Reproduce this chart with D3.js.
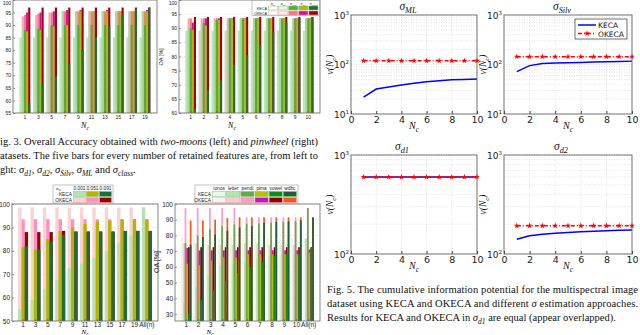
<!DOCTYPE html>
<html>
<head>
<meta charset="utf-8">
<script src="https://cdn.jsdelivr.net/npm/d3@7"></script>
<style>
body { margin: 0; background: #fff; }
svg { display: block; }
</style>
</head>
<body>
<svg id="page" width="640" height="335"></svg>
<script>
// ---- Fig. 3: two-moons (left) and pinwheel (right), OA [%] ----
var moonsNc = ["1", "3", "5", "7", "9", "11", "13", "15", "17", "19"];
var moonsKeca = [
    [85, 85, 85, 85, 85, 85, 85, 85, 85, 85],
    [88, 89, 90, 95.5, 95.5, 95.5, 95.5, 95.5, 95.5, 95.5],
    [88, 88.5, 90, 90, 90, 90, 90, 90, 90, 90],
    [87.5, 88, 89.5, 90, 95.5, 95.5, 95.5, 95.5, 95.5, 95.5],
    [59, 66.5, 69.5, 74.5, 80, 85, 89.5, 94, 96.5, 97]
];
var moonsOkeca = [
    [85, 85, 85, 85, 85, 85, 85, 85, 85, 85],
    [93.5, 94, 95, 95.5, 95.5, 95.5, 95.5, 95.5, 95.5, 95.5],
    [94, 94.5, 95, 95.5, 95.5, 95.5, 95.5, 95.5, 95.5, 95.5],
    [95, 95, 95.5, 96, 96, 95.5, 96, 95.5, 95.5, 96],
    [97, 97, 97, 97, 97, 97, 97, 97, 97, 97]
];
var pinNc = ["1", "2", "3", "4", "5", "6", "7", "8", "9", "10"];
var pinKeca = [
    [89, 89, 89, 89, 89, 89, 89, 89, 89, 89],
    [89.5, 91.5, 92.5, 93.5, 93.5, 93.5, 93.5, 93.5, 93.5, 93.5],
    [90, 92, 93, 93.5, 93.5, 93.5, 93.5, 93.5, 93.5, 93.5],
    [89.5, 91, 93, 93.5, 93.5, 93.5, 93.5, 93.5, 93.5, 93.5],
    [61.5, 68, 71.5, 77, 80.5, 84, 88.5, 92, 93.5, 94]
];
var pinOkeca = [
    [89.3, 89.3, 89.3, 89.3, 89.3, 89.3, 89.3, 89.3, 89.3, 89.3],
    [93.5, 93.5, 93.5, 93.5, 93.5, 93.5, 93.5, 93.5, 93.5, 93.5],
    [93.5, 93.5, 93.5, 93.5, 93.5, 93.5, 93.5, 93.5, 93.5, 93.5],
    [92, 93.5, 93.5, 93.5, 93.5, 93.5, 93.5, 93.5, 93.5, 93.5],
    [94, 94, 94, 94, 94, 94, 94, 94, 94, 94]
];
var sigmaNames = ["d1", "d2", "Silv", "ML", "class"];

// ---- Fig. 4: sigma values (left) and UCI datasets (right) ----
var sigNc = ["1", "3", "5", "7", "9", "11", "13", "15", "17", "19", "All(n)"];
var sigNames = ["0.001", "0.051", "0.091"];
var sigKeca = [
    [55, 59, 63.5, 67.5, 72.5, 74.5, 77, 80, 83.5, 86.5, 98.5],
    [81.5, 80.5, 85, 88.5, 90, 91.5, 92.5, 93, 93.5, 93.5, 93.5],
    [82, 80.5, 84, 86.8, 88, 88, 88, 88, 88.5, 88.5, 88.5]
];
var sigOkeca = [
    [98.5, 98.5, 98.5, 98.5, 98.5, 98.5, 98.5, 98.5, 98.5, 98.5, 98.5],
    [93.5, 93.5, 93.5, 93.5, 93.5, 93.5, 93.5, 93.5, 93.5, 93.5, 93.5],
    [88, 88, 88, 88.5, 88.3, 88.3, 88.3, 88.3, 88.5, 88.5, 88.5]
];
var dsNc = ["1", "2", "3", "4", "5", "6", "7", "8", "9", "10", "All(n)"];
var dsNames = ["ionos", "letter", "pendi", "pima", "vowel", "wdbc"];
var dsKeca = [
    [78, 79, 78.5, 78.5, 78.5, 78.5, 78, 78, 78, 78, 78],
    [38, 47, 55, 61, 62, 63, 65, 67, 68, 68, 78],
    [75, 80, 84, 86, 87, 87.5, 87.5, 88, 88.5, 89, 97.5],
    [62, 61, 64, 66, 66, 68, 68, 68, 68, 68, 69],
    [30, 39, 45, 51, 56, 60, 63, 67, 68, 68, 72],
    [74, 79, 80.5, 83, 85, 86, 88, 88.5, 89, 89.5, 91.5]
];
var dsOkeca = [
    [79, 79.5, 79, 79, 79, 79, 78.5, 78.5, 78.5, 78.5, 78.5],
    [75, 75, 74, 74, 74, 75, 75, 74, 74, 74, 78],
    [97.5, 97.5, 97.5, 97.5, 97.5, 91.5, 91.5, 91.5, 91.5, 91.5, 97.5],
    [72, 70.5, 70.5, 70.5, 70.5, 70.5, 70.5, 70.5, 70.5, 70.5, 71],
    [72.5, 72.5, 72.5, 72.5, 72.5, 72.5, 72.5, 72.5, 72.5, 72.5, 72.5],
    [89.5, 89.5, 90, 91, 91.5, 91.5, 91.5, 91.5, 91.5, 91.5, 91.5]
];

// ---- Fig. 5: cumulative information potential ----
var ncSteps = [1, 2, 3, 4, 5, 6, 7, 8, 9, 10];
var mlKeca = [22, 32, 35, 38.5, 42, 45, 47, 49, 50, 51];
var mlOkeca = [119, 119, 119, 119, 119, 119, 119, 119, 119, 119];
var silvKeca = [72, 95, 105, 107, 109, 110, 112, 114, 115, 117];
var silvOkeca = [144, 144, 144, 144, 144, 144, 144, 144, 144, 144];
var d1Keca = [600, 600, 600, 600, 600, 600, 600, 600, 600, 600];
var d1Okeca = [600, 600, 600, 600, 600, 600, 600, 600, 600, 600];
var d2Keca = [141, 153, 158, 162, 165, 168, 170, 172, 174, 175];
var d2Okeca = [193, 193, 193, 193, 193, 193, 193, 193, 193, 193];

var sans = "'Liberation Sans', Arial, sans-serif";
var serif = "'Liberation Serif', 'Times New Roman', serif";
var dejavu = "'DejaVu Sans', sans-serif";

var svg = d3.select("#page");

// text with italic / subscript pieces
function rich(t, parts, size) {
    var shifted = false;
    parts.forEach(function(p) {
        var ts = t.append("tspan").text(p[0]);
        if (p[1] == "s") {
            ts.attr("font-size", size * 0.72).attr("font-style", "italic");
            if (!shifted) { ts.attr("dy", size * 0.3); shifted = true; }
        } else {
            if (shifted) { ts.attr("dy", -size * 0.3); shifted = false; }
            if (p[1] == "i") ts.attr("font-style", "italic");
        }
    });
    return t;
}

function barPanel(p) {
    var g = svg.append("g");
    var x = d3.scaleBand().domain(p.groups).range([p.left, p.right])
        .paddingOuter(0.5).paddingInner(p.inner);
    var sub = d3.scaleBand().domain(d3.range(p.keca.length)).range([0, x.bandwidth()]);
    var y = d3.scaleLinear().domain(p.domain).range([p.bottom, p.top]);

    g.selectAll(".grid").data(p.ticks).enter().append("line")
        .attr("x1", p.left).attr("x2", p.right)
        .attr("y1", function(d) { return y(d); })
        .attr("y2", function(d) { return y(d); })
        .attr("stroke", "#d4d4d4").attr("stroke-width", 0.6)
        .attr("stroke-dasharray", "1,1.5");

    p.keca.forEach(function(kv, k) {
        [[p.okeca[k], p.okecaColors[k]], [kv, p.kecaColors[k]]].forEach(function(s) {
            g.append("g").selectAll("rect").data(s[0]).enter().append("rect")
                .attr("x", function(d, i) { return x(p.groups[i]) + sub(k); })
                .attr("width", sub.bandwidth())
                .attr("y", function(d) { return y(d); })
                .attr("height", function(d) { return p.bottom - y(d); })
                .attr("fill", s[1]);
        });
    });

    var ya = g.append("g").attr("transform", "translate(" + p.left + ",0)")
        .call(d3.axisLeft(y).tickValues(p.ticks).tickSizeInner(-2).tickSizeOuter(0).tickPadding(2));
    var xa = g.append("g").attr("transform", "translate(0," + p.bottom + ")")
        .call(d3.axisBottom(x).tickSizeInner(-2).tickSizeOuter(0).tickPadding(p.xpad));
    [ya, xa].forEach(function(a) {
        a.select(".domain").remove();
        a.selectAll("line").attr("stroke", "#555").attr("stroke-width", 0.6);
        a.selectAll("text").attr("font-size", p.font).attr("font-family", sans).attr("fill", "#222");
    });
    // keep the top tick label inside the page
    ya.selectAll("text").attr("dy", function(d) { return y(d) < 3 ? "0.9em" : "0.32em"; });

    g.append("rect").attr("x", p.left).attr("y", p.top)
        .attr("width", p.right - p.left).attr("height", p.bottom - p.top)
        .attr("fill", "none").attr("stroke", "#666").attr("stroke-width", 0.8);

    rich(g.append("text").attr("x", p.nx).attr("y", p.ny).attr("text-anchor", "middle")
        .attr("font-family", serif).attr("font-size", p.nfont),
        [["N", "i"], ["c", "s"]], p.nfont);
    if (p.ylab) {
        g.append("text").attr("transform", "translate(" + p.ylab[0] + "," + p.ylab[1] + ")rotate(-90)")
            .attr("text-anchor", "middle").attr("font-family", sans)
            .attr("font-size", p.font + 0.5).attr("fill", "#222").text("OA [%]");
    }
    return g;
}

// legend block: header labels + KECA / OKECA rows
function barLegend(p) {
    var g = svg.append("g");
    g.append("rect").attr("x", p.x).attr("y", p.y).attr("width", p.w).attr("height", p.h)
        .attr("fill", "#fff").attr("stroke", "#999").attr("stroke-width", 0.6);
    var bx = d3.scaleBand().domain(d3.range(p.names.length)).range([p.bx0, p.x + p.w - 1]);
    var rowH = (p.h - p.head) / 2;
    p.names.forEach(function(nm, i) {
        var t = g.append("text").attr("x", bx(i) + bx.bandwidth() / 2).attr("y", p.y + p.head - 1)
            .attr("text-anchor", "middle").attr("font-family", p.sigma ? serif : sans)
            .attr("font-size", p.font).attr("fill", "#222");
        if (p.sigma) rich(t, [["σ", "i"], [nm, "s"]], p.font);
        else t.text(nm);
    });
    if (p.corner) {
        rich(g.append("text").attr("x", p.x + 3).attr("y", p.y + p.head - 1)
            .attr("font-family", serif).attr("font-size", p.font).attr("fill", "#222"),
            [["σ", "i"], [p.corner, "s"]], p.font);
    }
    [["KECA", p.kecaColors], ["OKECA", p.okecaColors]].forEach(function(r, j) {
        var yy = p.y + p.head + j * rowH;
        g.append("text").attr("x", p.bx0 - 1).attr("y", yy + rowH - 1)
            .attr("text-anchor", "end").attr("font-family", sans)
            .attr("font-size", p.font).attr("fill", "#222").text(r[0]);
        g.selectAll(".b" + j).data(r[1]).enter().append("rect")
            .attr("x", function(d, i) { return bx(i) + 0.5; })
            .attr("y", yy + 0.5)
            .attr("width", bx.bandwidth() - 1).attr("height", rowH - 1)
            .attr("fill", function(d) { return d; })
            .attr("stroke", function(d, i) { return j == 0 ? "#7cc47a" : "#f0a0a0"; })
            .attr("stroke-width", 0.5);
    });
}

var sigmaKecaColors = ["#bfe4b8", "#a6d99d", "#58a946", "#b3bb00", "#1d6f3b"];
var sigmaOkecaColors = ["#f7d6d6", "#f3aab2", "#f07c80", "#cf119a", "#a2000f"];

barPanel({ groups: moonsNc, keca: moonsKeca, okeca: moonsOkeca,
    kecaColors: sigmaKecaColors, okecaColors: sigmaOkecaColors,
    left: 13, right: 157, top: 0, bottom: 113, inner: 0.2,
    domain: [55, 100], ticks: [55, 60, 65, 70, 75, 80, 85, 90, 95, 100],
    font: 5, xpad: 2.5, nfont: 8, nx: 85, ny: 128 });

barPanel({ groups: pinNc, keca: pinKeca, okeca: pinOkeca,
    kecaColors: sigmaKecaColors, okecaColors: sigmaOkecaColors,
    left: 179, right: 320, top: 0, bottom: 113, inner: 0.2,
    domain: [60, 100], ticks: [60, 65, 70, 75, 80, 85, 90, 95, 100],
    font: 5, xpad: 2.5, nfont: 8, nx: 232, ny: 128, ylab: [163, 57] });

barLegend({ x: 252, y: 0.5, w: 67.5, h: 15, head: 5, bx0: 268, font: 3.8,
    names: sigmaNames, sigma: true,
    kecaColors: ["#ffffff", "#e6f5e3", "#58a946", "#b3bb00", "#1d6f3b"],
    okecaColors: ["#ffffff", "#fde9e9", "#f07c80", "#cf119a", "#a2000f"] });

var sigKecaColors = ["#b7e0b4", "#b5b500", "#1f6b3a"];
var sigOkecaColors = ["#f7d3d3", "#ff8fc0", "#990000"];
barPanel({ groups: sigNc, keca: sigKeca, okeca: sigOkeca,
    kecaColors: sigKecaColors, okecaColors: sigOkecaColors,
    left: 12, right: 158, top: 204, bottom: 321, inner: 0.2,
    domain: [50, 100], ticks: [50, 60, 70, 80, 90, 100],
    font: 6.5, xpad: 1.8, nfont: 7, nx: 85, ny: 334.2 });
barLegend({ x: 53, y: 185, w: 60, h: 18, head: 6, bx0: 73, font: 4.8,
    names: sigNames, corner: "w",
    kecaColors: sigKecaColors, okecaColors: sigOkecaColors });

var dsKecaColors = ["#eaf6e7", "#b9e2b1", "#6aa84f", "#bcbc00", "#128a14", "#1f5e3a"];
var dsOkecaColors = ["#fcf1f1", "#f6cccc", "#ff9cc0", "#cc10c0", "#8b0000", "#ee5a22"];
barPanel({ groups: dsNc, keca: dsKeca, okeca: dsOkeca,
    kecaColors: dsKecaColors, okecaColors: dsOkecaColors,
    left: 175, right: 320, top: 204, bottom: 321, inner: 0.15,
    domain: [25.5, 100], ticks: [30, 40, 50, 60, 70, 80, 90, 100],
    font: 6.5, xpad: 1.8, nfont: 7, nx: 210, ny: 334.2, ylab: [159, 262] });
barLegend({ x: 195, y: 185, w: 103, h: 18, head: 6, bx0: 212, font: 4.8,
    names: dsNames,
    kecaColors: dsKecaColors, okecaColors: dsOkecaColors });

// ---- Fig. 5 log panels ----
function logPanel(p) {
    var g = svg.append("g");
    var x = d3.scaleLinear().domain([0, 10]).range([p.left, p.right]);
    var y = d3.scaleLog().domain(p.domain).range([p.bottom, p.top]);
    var gridStyle = function(s) {
        s.attr("stroke", "#cfcfcf").attr("stroke-width", 0.6).attr("stroke-dasharray", "1,1.5");
    };
    g.selectAll(".gy").data(y.ticks()).enter().append("line")
        .attr("x1", p.left).attr("x2", p.right)
        .attr("y1", function(d) { return y(d); }).attr("y2", function(d) { return y(d); })
        .call(gridStyle);
    g.selectAll(".gx").data(x.ticks(5)).enter().append("line")
        .attr("y1", p.top).attr("y2", p.bottom)
        .attr("x1", function(d) { return x(d); }).attr("x2", function(d) { return x(d); })
        .call(gridStyle);

    var line = d3.line()
        .x(function(d, i) { return x(ncSteps[i]); })
        .y(function(d) { return y(d); });
    g.append("path").datum(p.keca).attr("d", line).attr("fill", "none")
        .attr("stroke", "#0000ff").attr("stroke-width", 1.5);
    g.append("path").datum(p.okeca).attr("d", line).attr("fill", "none")
        .attr("stroke", "#ff0000").attr("stroke-width", 1.5).attr("stroke-dasharray", "4,2,1,2");
    g.selectAll(".st").data(p.okeca).enter().append("path")
        .attr("transform", function(d, i) { return "translate(" + x(ncSteps[i]) + "," + y(d) + ")"; })
        .attr("d", d3.symbol().type(d3.symbolStar).size(11))
        .attr("fill", "#ff0000");

    var xa = g.append("g").attr("transform", "translate(0," + p.bottom + ")")
        .call(d3.axisBottom(x).ticks(5).tickSizeInner(-3).tickSizeOuter(0).tickPadding(2.5));
    xa.select(".domain").remove();
    xa.selectAll("line").attr("stroke", "#444");
    xa.selectAll("text").attr("font-family", dejavu).attr("font-size", 9.5).attr("fill", "#222");

    var decades = y.ticks().filter(function(d) { return Math.abs(Math.log10(d) % 1) < 1e-9; });
    decades.forEach(function(d) {
        var t = g.append("text").attr("x", p.left - 2).attr("y", y(d) + 3.5)
            .attr("text-anchor", "end").attr("font-family", dejavu)
            .attr("font-size", 9).attr("fill", "#222");
        t.append("tspan").text("10");
        t.append("tspan").attr("dy", -4).attr("font-size", 5.5).text(Math.round(Math.log10(d)));
    });

    g.append("rect").attr("x", p.left).attr("y", p.top)
        .attr("width", p.right - p.left).attr("height", p.bottom - p.top)
        .attr("fill", "none").attr("stroke", "#555").attr("stroke-width", 0.8);

    rich(g.append("text").attr("x", p.tx).attr("y", p.top - 5.5).attr("text-anchor", "middle")
        .attr("font-family", serif).attr("font-size", 11.5).attr("fill", "#111"),
        [["σ", "i"], [p.title, "s"]], 11.5);
    rich(g.append("text").attr("x", (p.left + p.right) / 2).attr("y", p.bottom + 15)
        .attr("text-anchor", "middle").attr("font-family", serif)
        .attr("font-size", 10).attr("fill", "#111"),
        [["N", "i"], ["c", "s"]], 10);
    rich(g.append("text").attr("transform", "translate(" + p.yl + "," + ((p.top + p.bottom) / 2) + ")rotate(-90)")
        .attr("text-anchor", "middle").attr("font-family", serif)
        .attr("font-size", 9.5).attr("fill", "#111"),
        [["ν(N", "i"], ["c", "s"], [")", "i"]], 9.5);
    return g;
}

logPanel({ left: 351, right: 477, top: 15, bottom: 114, domain: [10, 1000],
    keca: mlKeca, okeca: mlOkeca, title: "ML", tx: 408, yl: 333 });
logPanel({ left: 504, right: 632, top: 15, bottom: 114, domain: [10, 1000],
    keca: silvKeca, okeca: silvOkeca, title: "Silv", tx: 562, yl: 486 });
logPanel({ left: 351, right: 477, top: 155, bottom: 254, domain: [100, 1000],
    keca: d1Keca, okeca: d1Okeca, title: "d1", tx: 402, yl: 333 });
logPanel({ left: 504, right: 632, top: 155, bottom: 254, domain: [100, 1000],
    keca: d2Keca, okeca: d2Okeca, title: "d2", tx: 561, yl: 486 });

// legend of sigma_Silv panel
var lg = svg.append("g");
lg.append("rect").attr("x", 575).attr("y", 19).attr("width", 52).attr("height", 20)
    .attr("fill", "#fff").attr("stroke", "#333").attr("stroke-width", 0.7);
lg.append("line").attr("x1", 578).attr("x2", 596).attr("y1", 25).attr("y2", 25)
    .attr("stroke", "#0000ff").attr("stroke-width", 1.5);
lg.append("line").attr("x1", 578).attr("x2", 596).attr("y1", 33.5).attr("y2", 33.5)
    .attr("stroke", "#ff0000").attr("stroke-width", 1.5).attr("stroke-dasharray", "4,2,1,2");
lg.append("path").attr("transform", "translate(587,33.5)")
    .attr("d", d3.symbol().type(d3.symbolStar).size(11)).attr("fill", "#ff0000");
[["KECA", 28], ["OKECA", 36.5]].forEach(function(r) {
    lg.append("text").attr("x", 598).attr("y", r[1]).attr("font-family", dejavu)
        .attr("font-size", 7.5).attr("fill", "#111").text(r[0]);
});

// ---- captions ----
function capLine(x, y, parts, len) {
    var t = svg.append("text").attr("x", x).attr("y", y)
        .attr("font-family", serif).attr("font-size", 10.5).attr("fill", "#111");
    rich(t, parts, 10.5);
    if (len) t.attr("textLength", len).attr("lengthAdjust", "spacing");
}
capLine(0, 145, [["ig. 3.   Overall Accuracy obtained with ", "n"], ["two-moons", "i"],
    [" (left) and ", "n"], ["pinwheel", "i"], [" (right)", "n"]], 318);
capLine(0, 159, [["atasets. The five bars for every number of retained features are, from left to", "n"]], 318);
capLine(0, 173, [["ght: ", "n"], ["σ", "i"], ["d1", "s"], [", ", "n"], ["σ", "i"], ["d2", "s"],
    [", ", "n"], ["σ", "i"], ["Silv", "s"], [", ", "n"], ["σ", "i"], ["ML", "s"],
    [" and ", "n"], ["σ", "i"], ["class", "s"], [".", "n"]]);
capLine(327, 293, [["Fig. 5.    The cumulative information potential for the multispectral image", "n"]], 311);
capLine(327, 307, [["dataset using KECA and OKECA and different ", "n"], ["σ", "i"],
    [" estimation approaches.", "n"]], 311);
capLine(327, 321, [["Results for KECA and OKECA in ", "n"], ["σ", "i"], ["d1", "s"],
    [" are equal (appear overlapped).", "n"]]);
</script>
</body>
</html>
